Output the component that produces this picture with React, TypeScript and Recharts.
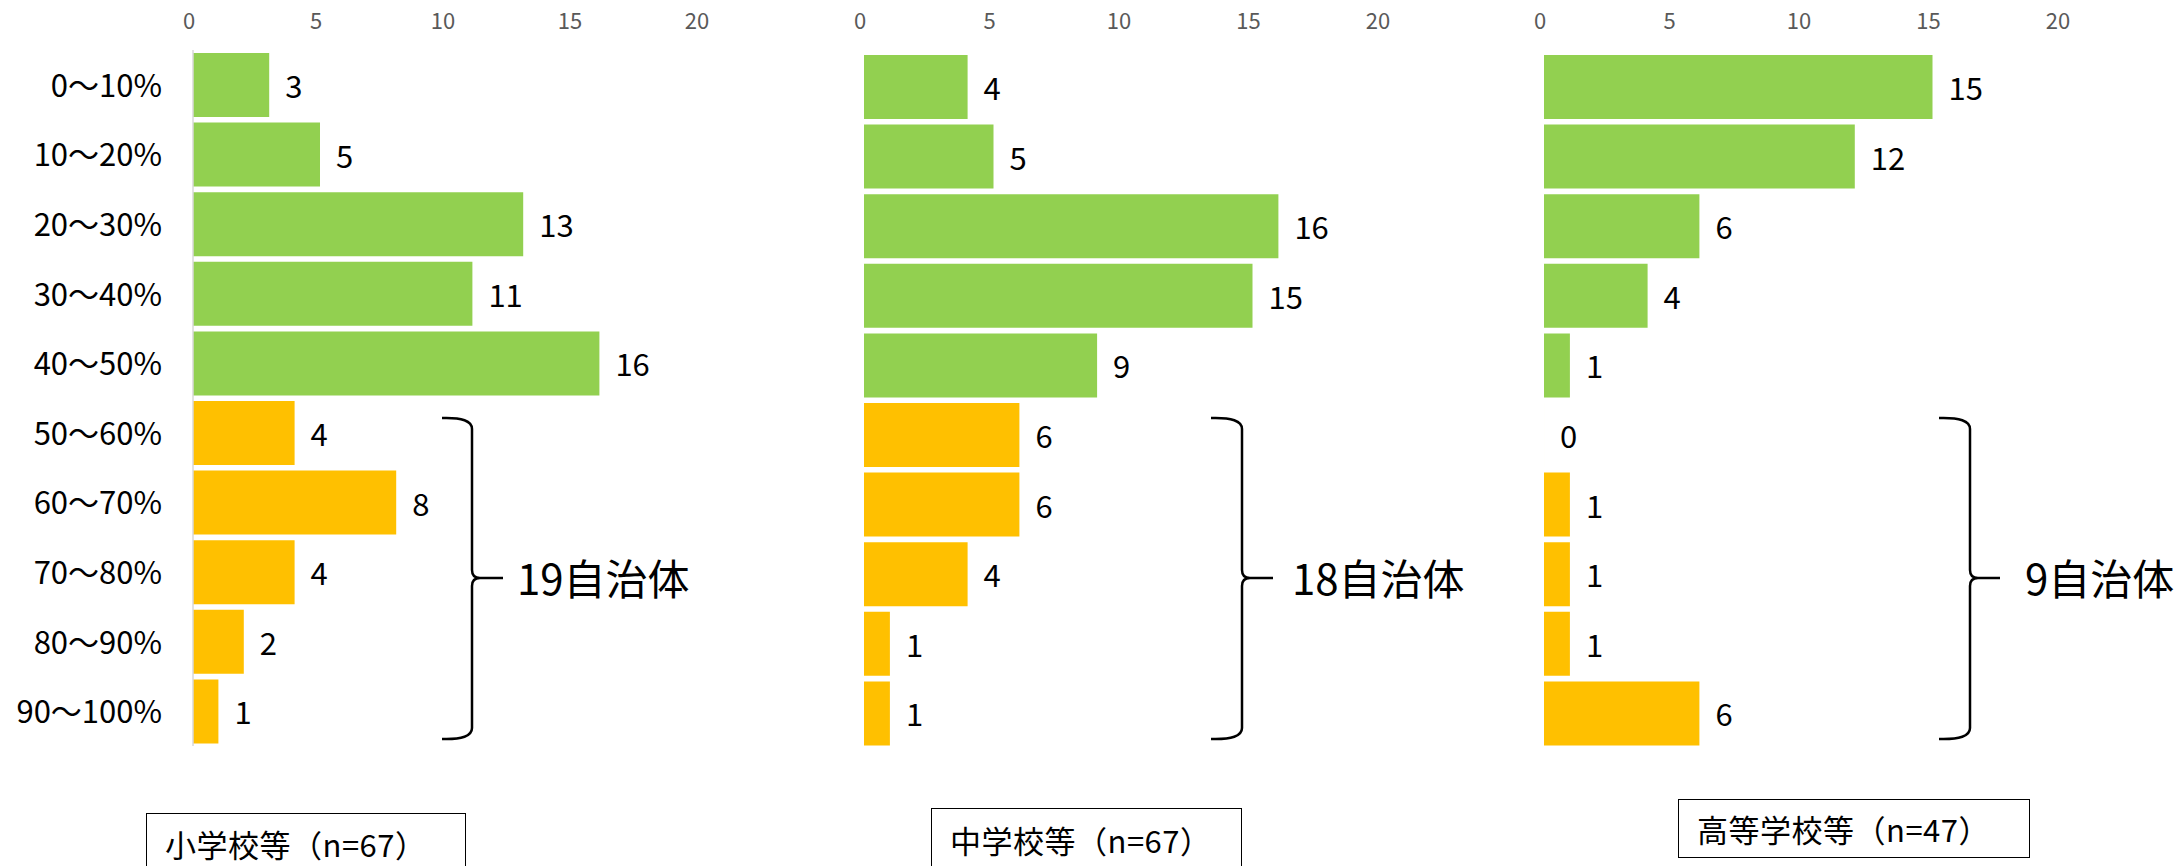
import React from 'react';
import { BarChart, Bar, XAxis, YAxis, Cell, LabelList } from 'recharts';

// ---------- data ----------
const categories = ['0～10%', '10～20%', '20～30%', '30～40%', '40～50%', '50～60%', '60～70%', '70～80%', '80～90%', '90～100%'];
const elementaryValues = [3, 5, 13, 11, 16, 4, 8, 4, 2, 1];
const juniorHighValues = [4, 5, 16, 15, 9, 6, 6, 4, 1, 1];
const highSchoolValues = [15, 12, 6, 4, 1, 0, 1, 1, 1, 6];
const xTicks = [0, 5, 10, 15, 20];
const panelTitles = ['小学校等（n=67）', '中学校等（n=67）', '高等学校等（n=47）'];
const bracketCounts = [19, 18, 9];
const bracketSuffix = '自治体';
const highlightStart = 5; // first category of the "50% and over" group

// ---------- styles ----------
const FONT = '"Noto Sans CJK JP", "Noto Sans", sans-serif';
const GREEN = '#92D050';
const ORANGE = '#FFC000';
const W = 2183;
const H = 866;
const VALUE_FONT = 31;

type PanelProps = {
  left: number;
  width: number;
  values: number[];
  margin: { top: number; right: number; bottom: number; left: number };
  showCategories: boolean;
  tickMargin: number;
};

function ValueLabel(props: any) {
  const { x, y, width, height, value } = props;
  if (x == null || y == null) return null;
  const cx = Number(x) + Number(width || 0) + 16;
  const cy = Number(y) + Number(height || 0) / 2 + VALUE_FONT * 0.355 + 2;
  return (
    <text x={cx} y={cy} fontSize={VALUE_FONT} fontFamily={FONT} fill="#000" textAnchor="start">
      {value}
    </text>
  );
}

function Panel({ left, width, values, margin, showCategories, tickMargin }: PanelProps) {
  const data = categories.map((name, i) => ({ name, value: values[i] }));
  return (
    <div style={{ position: 'absolute', left, top: 0 }}>
      <BarChart layout="vertical" width={width} height={H} data={data} margin={margin}>
        <XAxis
          type="number"
          orientation="top"
          domain={[0, 20]}
          ticks={xTicks}
          interval={0}
          axisLine={false}
          tickLine={false}
          tickSize={0}
          tickMargin={tickMargin}
          height={30}
          tick={{ fill: '#595959', fontSize: 22, fontFamily: FONT, dx: -4 }}
        />
        <YAxis
          type="category"
          dataKey="name"
          hide={!showCategories}
          width={193}
          interval={0}
          tickLine={false}
          tickSize={0}
          tickMargin={31}
          axisLine={{ stroke: '#D9D9D9', strokeWidth: 1.5 }}
          tick={{ fill: '#000', fontSize: 31, fontFamily: FONT, dy: 1 }}
        />
        <Bar dataKey="value" barSize={64} minPointSize={0.01} isAnimationActive={false}>
          {data.map((d, i) => (
            <Cell key={i} fill={i < highlightStart ? GREEN : ORANGE} />
          ))}
          <LabelList dataKey="value" content={ValueLabel} />
        </Bar>
      </BarChart>
    </div>
  );
}

function bracePath(xl: number, xv: number, xt: number, yt: number, ym: number, yb: number) {
  return [
    `M ${xl} ${yt} Q ${xv} ${yt - 1} ${xv} ${yt + 11}`,
    `L ${xv} ${ym - 8} Q ${xv} ${ym} ${xv + 8} ${ym} L ${xt} ${ym}`,
    `M ${xv + 8} ${ym} Q ${xv} ${ym} ${xv} ${ym + 8}`,
    `L ${xv} ${yb - 11} Q ${xv} ${yb + 1} ${xl} ${yb}`,
  ].join(' ');
}

const braces = [
  { xl: 442, xv: 472, xt: 503, tx: 517 },
  { xl: 1211, xv: 1242, xt: 1273, tx: 1292 },
  { xl: 1939, xv: 1970, xt: 2000, tx: 2025 },
];

const boxes = [
  { left: 146, top: 813, width: 320, height: 60 },
  { left: 931, top: 808, width: 311, height: 62 },
  { left: 1678, top: 799, width: 352, height: 59 },
];

export default function App() {
  return (
    <div style={{ position: 'absolute', left: 0, top: 0, width: W, height: H, overflow: 'hidden', background: '#fff' }}>
      <Panel left={0} width={720} values={elementaryValues} margin={{ top: 20, right: 19, bottom: 120, left: 0 }} showCategories tickMargin={21} />
      <Panel left={720} width={760} values={juniorHighValues} margin={{ top: 22, right: 98, bottom: 118, left: 144 }} showCategories={false} tickMargin={23} />
      <Panel left={1480} width={703} values={highSchoolValues} margin={{ top: 22, right: 121, bottom: 118, left: 64 }} showCategories={false} tickMargin={23} />
      <svg width={W} height={H} style={{ position: 'absolute', left: 0, top: 0, pointerEvents: 'none' }}>
        {braces.map((b, i) => (
          <g key={i}>
            <path d={bracePath(b.xl, b.xv, b.xt, 418, 578, 739)} fill="none" stroke="#000" strokeWidth={2.5} />
            <text x={b.tx} y={595} fontSize={42} fontFamily={FONT} fill="#000">
              {`${bracketCounts[i]}${bracketSuffix}`}
            </text>
          </g>
        ))}
      </svg>
      {boxes.map((b, i) => (
        <div
          key={i}
          style={{
            position: 'absolute',
            left: b.left,
            top: b.top,
            width: b.width,
            height: b.height,
            boxSizing: 'border-box',
            border: '1.5px solid #000',
            display: 'flex',
            alignItems: 'center',
            paddingLeft: 18,
            fontFamily: FONT,
            fontSize: 31,
            letterSpacing: 0.5,
            color: '#000',
            whiteSpace: 'nowrap',
          }}
        >
          {panelTitles[i]}
        </div>
      ))}
    </div>
  );
}
